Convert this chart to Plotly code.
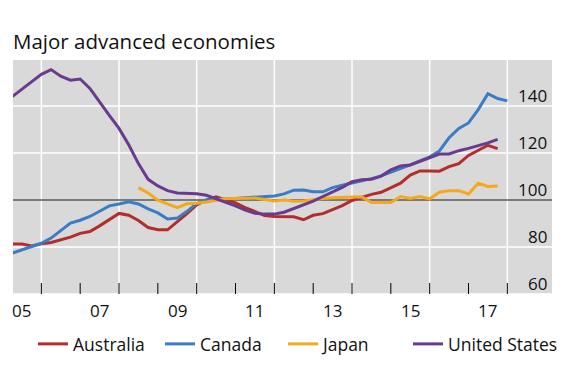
import plotly.graph_objects as go

start_year = 2005.25
step = 0.25

australia = [81.3, 81.3, 80.4, 81.4, 81.9, 83.1, 84.2, 85.8, 86.6, 89.0,
             91.8, 94.3, 93.5, 91.3, 88.3, 87.4, 87.3, 90.6, 94.2, 97.9,
             100.0, 101.4, 100.0, 98.8, 96.8, 95.0, 93.4, 93.0, 93.1, 92.9,
             91.6, 93.5, 94.2, 95.8, 97.6, 99.8, 101.2, 102.4, 103.3, 105.1,
             107.2, 110.6, 112.4, 112.4, 112.3, 114.2, 115.5, 119.0, 121.2, 123.3,
             121.9]
canada = [77.4, 78.8, 80.0, 81.6, 83.8, 87.0, 90.2, 91.4, 93.0, 95.2,
          97.5, 98.3, 99.3, 98.3, 96.2, 94.5, 91.9, 92.3, 95.2, 98.5,
          100.0, 100.3, 100.3, 100.6, 101.0, 101.3, 101.6, 101.7, 102.6, 104.2,
          104.3, 103.5, 103.5, 105.3, 106.3, 107.2, 108.1, 109.1, 110.3, 111.8,
          113.5, 115.0, 116.7, 118.4, 120.9, 126.5, 130.5, 132.8, 138.5, 145.3,
          143.2, 142.2]
japan_start = 13
japan = [105.3, 103.0, 99.9, 98.4, 96.8, 98.4, 98.6, 99.2, 99.9, 100.6,
         100.6, 100.6, 100.9, 100.2, 99.6, 100.0, 99.5, 99.6, 100.2, 100.6,
         101.0, 101.2, 101.4, 101.4, 98.9, 98.9, 98.9, 101.5, 100.7, 101.5,
         100.5, 103.3, 104.0, 104.0, 102.6, 107.1, 105.8, 106.0]
united_states = [144.0, 147.3, 150.3, 153.5, 155.5, 152.7, 151.0, 151.5, 147.5, 141.5,
                 136.0, 130.5, 123.5, 115.5, 108.8, 106.0, 104.0, 103.0, 102.7, 102.7,
                 102.0, 100.6, 99.2, 97.5, 95.7, 94.4, 94.0, 94.0, 94.8, 96.4,
                 98.0, 99.5, 101.5, 103.4, 105.4, 107.8, 108.6, 108.8, 110.2, 112.8,
                 114.5, 114.9, 116.4, 118.2, 119.6, 119.6, 121.0, 122.0, 123.0, 124.3,
                 125.8]

series_names = ["Australia", "Canada", "Japan", "United States"]
series_colors = ["#b22d2e", "#3b7cc4", "#f5a81c", "#693b8f"]
tick_years = list(range(2006, 2019))
grid_years = [2006, 2008, 2010, 2012, 2014, 2016, 2018]
label_years = [2005, 2007, 2009, 2011, 2013, 2015, 2017]
x_tick_labels = ["05", "07", "09", "11", "13", "15", "17"]
y_ticks = [60, 80, 100, 120, 140]
y_tick_labels = ["60", "80", "100", "120", "140"]
base_value = 100

# page body has an 8px margin, so the figure is drawn 8px smaller and offset
OFF = 8
W, H = 570 - OFF, 380 - OFF
M_L, M_R, M_T, M_B = 13 - OFF, 18, 60 - OFF, 86
FONT = "Open Sans"
TXT = "#111111"
x_range = [2005.27, 2019.15]
y_range = [60, 159.6]
tick_len_units = 11 * (y_range[1] - y_range[0]) / (H - M_T - M_B)


def xs(n, offset=0):
    return [start_year + step * (offset + i) for i in range(n)]


def segs_vertical(xvals, y0, y1):
    gx, gy = [], []
    for v in xvals:
        gx += [v, v, None]
        gy += [y0, y1, None]
    return gx, gy


def segs_horizontal(yvals, x0, x1):
    gx, gy = [], []
    for v in yvals:
        gx += [x0, x1, None]
        gy += [v, v, None]
    return gx, gy


fig = go.Figure()
# white grid (vertical every two years, horizontal at the value ticks)
gx, gy = segs_vertical(grid_years, y_range[0], y_range[1])
fig.add_trace(go.Scatter(x=gx, y=gy, mode="lines", line=dict(color="white", width=1.5),
                         showlegend=False, hoverinfo="skip"))
gx, gy = segs_horizontal(y_ticks, x_range[0], x_range[1])
fig.add_trace(go.Scatter(x=gx, y=gy, mode="lines", line=dict(color="white", width=1.5),
                         showlegend=False, hoverinfo="skip"))
# reference line at 100
fig.add_trace(go.Scatter(x=x_range, y=[base_value, base_value], mode="lines",
                         line=dict(color="black", width=1.2), showlegend=False,
                         hoverinfo="skip"))
# yearly tick marks inside the bottom edge
gx, gy = segs_vertical(tick_years, y_range[0], y_range[0] + tick_len_units)
fig.add_trace(go.Scatter(x=gx, y=gy, mode="lines", line=dict(color="black", width=1),
                         showlegend=False, hoverinfo="skip"))

data = [(australia, 0), (canada, 0), (japan, japan_start), (united_states, 0)]
legend_ids = ["legend", "legend2", "legend3", "legend4"]
for (vals, off), name, col, lg in zip(data, series_names, series_colors, legend_ids):
    fig.add_trace(go.Scatter(x=xs(len(vals), off), y=vals, mode="lines", name=name,
                             line=dict(color=col, width=3), legend=lg))

legend_px = [33, 160, 283, 408]
legends = {}
for lg, px in zip(legend_ids, legend_px):
    legends[lg] = dict(orientation="h", x=(px - OFF) / W, xref="container", xanchor="left",
                       y=1 - (326 - OFF) / H, yref="container", yanchor="top",
                       bgcolor="rgba(0,0,0,0)",
                       font=dict(family=FONT, size=17.5, color=TXT))

annotations = []
for yr, txt in zip(label_years, x_tick_labels):
    annotations.append(dict(x=yr + 0.5, xref="x", y=0, yref="paper", text=txt,
                            showarrow=False, xanchor="center", yanchor="middle",
                            yshift=-16, font=dict(family=FONT, size=17, color=TXT)))
for v, txt in zip(y_ticks, y_tick_labels):
    annotations.append(dict(x=1, xref="paper", y=v, yref="y", text=txt,
                            showarrow=False, xanchor="right", yanchor="middle",
                            xshift=-3, yshift=11, font=dict(family=FONT, size=17, color=TXT)))

fig.update_layout(
    width=W, height=H,
    margin=dict(l=M_L, r=M_R, t=M_T, b=M_B),
    paper_bgcolor="white", plot_bgcolor="#d9d9d9",
    font=dict(family=FONT, size=17, color=TXT),
    title=dict(text="Major advanced economies", x=(13 - OFF) / W, xref="container",
               xanchor="left", y=1 - (42 - OFF) / H, yref="container", yanchor="middle",
               pad=dict(l=0, r=0, t=0, b=0),
               font=dict(family=FONT, size=20.5, color=TXT)),
    showlegend=True,
    xaxis=dict(range=x_range, showticklabels=False, showgrid=False, ticks="",
               zeroline=False),
    yaxis=dict(range=y_range, side="right", showticklabels=False, showgrid=False,
               zeroline=False, ticks=""),
    annotations=annotations,
    **legends,
)

fig.write_html("out.html")
